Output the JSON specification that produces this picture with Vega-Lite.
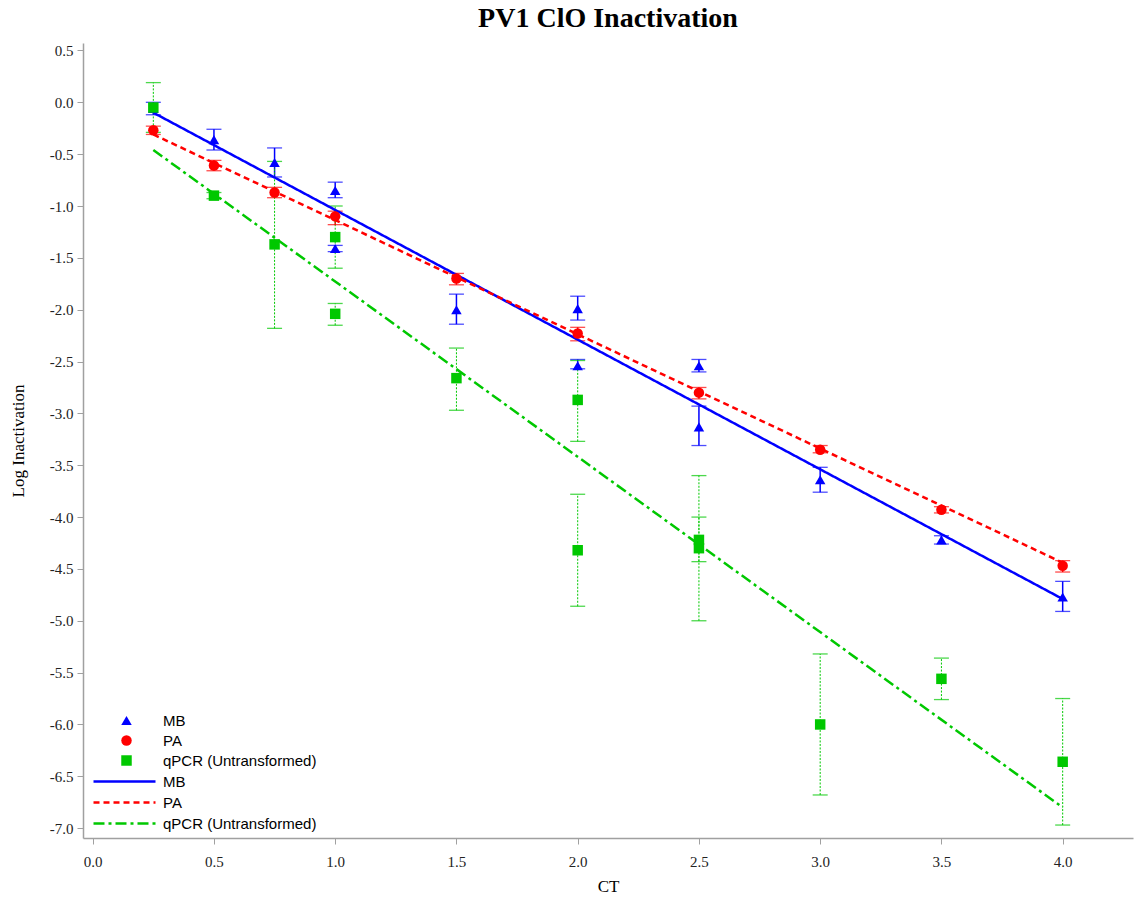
{
  "$schema": "https://vega.github.io/schema/vega-lite/v6.json",
  "width": 1050,
  "height": 795,
  "autosize": "none",
  "padding": {"left": 83, "top": 43, "right": 2, "bottom": 64},
  "background": "white",
  "title": {"text": "PV1 ClO Inactivation", "font": "Liberation Serif", "fontSize": 28, "fontWeight": "bold", "anchor": "middle", "offset": 10, "color": "black"},
  "config": {
    "view": {"stroke": null},
    "axis": {"grid": false, "domainColor": "#A0A0A0", "tickColor": "#A0A0A0", "tickSize": 6, "domainWidth": 1.5, "labelFont": "Liberation Serif", "labelFontSize": 15, "labelColor": "#222", "titleFont": "Liberation Serif", "titleFontSize": 17, "titleFontWeight": "normal", "titleColor": "black"},
    "legend": {"labelFont": "Liberation Sans", "labelFontSize": 15, "labelColor": "black", "padding": 0, "rowPadding": 4}
  },
  "datasets": {
    "pts": [
      {"series": "MB", "ct": 0.25, "mean": -0.06, "lo": -0.12, "hi": 0.0},
      {"series": "MB", "ct": 0.5, "mean": -0.36, "lo": -0.46, "hi": -0.26},
      {"series": "MB", "ct": 0.75, "mean": -0.58, "lo": -0.72, "hi": -0.44},
      {"series": "MB", "ct": 1.0, "mean": -0.85, "lo": -0.92, "hi": -0.77},
      {"series": "MB", "ct": 1.0, "mean": -1.41, "lo": -1.44, "hi": -1.38},
      {"series": "MB", "ct": 1.5, "mean": -2.0, "lo": -2.14, "hi": -1.85},
      {"series": "MB", "ct": 2.0, "mean": -1.99, "lo": -2.1, "hi": -1.87},
      {"series": "MB", "ct": 2.0, "mean": -2.54, "lo": -2.57, "hi": -2.48},
      {"series": "MB", "ct": 2.5, "mean": -2.54, "lo": -2.6, "hi": -2.48},
      {"series": "MB", "ct": 2.5, "mean": -3.13, "lo": -3.31, "hi": -2.93},
      {"series": "MB", "ct": 3.0, "mean": -3.64, "lo": -3.76, "hi": -3.52},
      {"series": "MB", "ct": 3.5, "mean": -4.22, "lo": -4.26, "hi": -4.18},
      {"series": "MB", "ct": 4.0, "mean": -4.77, "lo": -4.91, "hi": -4.62},
      {"series": "PA", "ct": 0.25, "mean": -0.27, "lo": -0.31, "hi": -0.23},
      {"series": "PA", "ct": 0.5, "mean": -0.61, "lo": -0.66, "hi": -0.56},
      {"series": "PA", "ct": 0.75, "mean": -0.87, "lo": -0.92, "hi": -0.82},
      {"series": "PA", "ct": 1.0, "mean": -1.1, "lo": -1.18, "hi": -1.05},
      {"series": "PA", "ct": 1.5, "mean": -1.7, "lo": -1.76, "hi": -1.65},
      {"series": "PA", "ct": 2.0, "mean": -2.23, "lo": -2.3, "hi": -2.17},
      {"series": "PA", "ct": 2.5, "mean": -2.8, "lo": -2.86, "hi": -2.75},
      {"series": "PA", "ct": 3.0, "mean": -3.35, "lo": -3.38, "hi": -3.31},
      {"series": "PA", "ct": 3.5, "mean": -3.93, "lo": -3.96, "hi": -3.9},
      {"series": "PA", "ct": 4.0, "mean": -4.47, "lo": -4.53, "hi": -4.42},
      {"series": "qPCR (Untransformed)", "ct": 0.25, "mean": -0.05, "lo": -0.29, "hi": 0.19},
      {"series": "qPCR (Untransformed)", "ct": 0.5, "mean": -0.9, "lo": -0.93, "hi": -0.87},
      {"series": "qPCR (Untransformed)", "ct": 0.75, "mean": -1.37, "lo": -2.18, "hi": -0.57},
      {"series": "qPCR (Untransformed)", "ct": 1.0, "mean": -1.3, "lo": -1.6, "hi": -1.0},
      {"series": "qPCR (Untransformed)", "ct": 1.0, "mean": -2.04, "lo": -2.15, "hi": -1.94},
      {"series": "qPCR (Untransformed)", "ct": 1.5, "mean": -2.66, "lo": -2.97, "hi": -2.37},
      {"series": "qPCR (Untransformed)", "ct": 2.0, "mean": -2.87, "lo": -3.27, "hi": -2.49},
      {"series": "qPCR (Untransformed)", "ct": 2.0, "mean": -4.32, "lo": -4.86, "hi": -3.78},
      {"series": "qPCR (Untransformed)", "ct": 2.5, "mean": -4.22, "lo": -4.43, "hi": -4.0},
      {"series": "qPCR (Untransformed)", "ct": 2.5, "mean": -4.3, "lo": -5.0, "hi": -3.6},
      {"series": "qPCR (Untransformed)", "ct": 3.0, "mean": -6.0, "lo": -6.68, "hi": -5.32},
      {"series": "qPCR (Untransformed)", "ct": 3.5, "mean": -5.56, "lo": -5.76, "hi": -5.36},
      {"series": "qPCR (Untransformed)", "ct": 4.0, "mean": -6.36, "lo": -6.97, "hi": -5.75}
    ],
    "fit": [
      {"series": "MB", "ct": 0.25, "fit": -0.1},
      {"series": "MB", "ct": 4.0, "fit": -4.79},
      {"series": "PA", "ct": 0.25, "fit": -0.31},
      {"series": "PA", "ct": 4.0, "fit": -4.44},
      {"series": "qPCR (Untransformed)", "ct": 0.25, "fit": -0.46},
      {"series": "qPCR (Untransformed)", "ct": 4.0, "fit": -6.8}
    ]
  },
  "encoding": {
    "x": {"field": "ct", "type": "quantitative", "title": "CT",
      "scale": {"domain": [-0.04, 4.29], "nice": false, "zero": false},
      "axis": {"values": [0, 0.5, 1, 1.5, 2, 2.5, 3, 3.5, 4], "format": ".1f", "labelPadding": 10, "titlePadding": 9}}
  },
  "layer": [
    {
      "data": {"name": "pts"},
      "transform": [{"filter": "datum.series != 'qPCR (Untransformed)'"}],
      "mark": {"type": "rule", "strokeWidth": 1.5},
      "encoding": {
        "y": {"field": "lo", "type": "quantitative", "title": "Log Inactivation",
          "scale": {"domain": [-7.095, 0.572], "nice": false, "zero": false},
          "axis": {"values": [-7, -6.5, -6, -5.5, -5, -4.5, -4, -3.5, -3, -2.5, -2, -1.5, -1, -0.5, 0, 0.5], "labelExpr": "replace(format(datum.value, '.1f'), '\u2212', '-')", "labelPadding": 4, "titlePadding": 22}},
        "y2": {"field": "hi"},
        "color": {"field": "series", "type": "nominal", "legend": null,
          "scale": {"domain": ["MB", "PA", "qPCR (Untransformed)"], "range": ["#0000FF", "#FF0000", "#00C800"]}}
      }
    },
    {
      "data": {"name": "pts"},
      "transform": [{"filter": "datum.series == 'qPCR (Untransformed)'"}],
      "mark": {"type": "rule", "strokeWidth": 1, "strokeDash": [2, 1.5], "color": "#00C800"},
      "encoding": {
        "y": {"field": "lo", "type": "quantitative"},
        "y2": {"field": "hi"}
      }
    },
    {
      "data": {"name": "pts"},
      "mark": {"type": "tick", "orient": "horizontal", "size": 15, "thickness": 1.3},
      "encoding": {
        "y": {"field": "lo", "type": "quantitative"},
        "color": {"field": "series", "type": "nominal", "legend": null,
          "scale": {"domain": ["MB", "PA", "qPCR (Untransformed)"], "range": ["#0000FF", "#FF0000", "#00C800"]}}
      }
    },
    {
      "data": {"name": "pts"},
      "mark": {"type": "tick", "orient": "horizontal", "size": 15, "thickness": 1.3},
      "encoding": {
        "y": {"field": "hi", "type": "quantitative"},
        "color": {"field": "series", "type": "nominal", "legend": null,
          "scale": {"domain": ["MB", "PA", "qPCR (Untransformed)"], "range": ["#0000FF", "#FF0000", "#00C800"]}}
      }
    },
    {
      "data": {"name": "fit"},
      "mark": {"type": "line", "strokeWidth": 2.5},
      "encoding": {
        "y": {"field": "fit", "type": "quantitative"},
        "color": {"field": "series", "type": "nominal",
          "scale": {"domain": ["MB", "PA", "qPCR (Untransformed)"], "range": ["#0000FF", "#FF0000", "#00C800"]},
          "legend": {"orient": "none", "legendX": 32, "legendY": 729, "title": null, "symbolType": "M-3.875,0H3.875", "symbolSize": 256, "symbolStrokeWidth": 2.5, "labelOffset": 29, "rowPadding": 3}},
        "strokeDash": {"field": "series", "type": "nominal",
          "scale": {"domain": ["MB", "PA", "qPCR (Untransformed)"], "range": [[1, 0], [6, 4], [11, 4, 3, 4]]},
          "legend": {"orient": "none", "legendX": 32, "legendY": 729, "title": null, "symbolType": "M-3.875,0H3.875", "symbolSize": 256, "symbolStrokeWidth": 2.5, "labelOffset": 29, "rowPadding": 3}}
      }
    },
    {
      "data": {"name": "pts"},
      "mark": {"type": "point", "filled": true, "size": 110, "opacity": 1},
      "encoding": {
        "y": {"field": "mean", "type": "quantitative"},
        "color": {"field": "series", "type": "nominal",
          "scale": {"domain": ["MB", "PA", "qPCR (Untransformed)"], "range": ["#0000FF", "#FF0000", "#00C800"]},
          "legend": {"orient": "none", "legendX": 36, "legendY": 670, "title": null, "symbolSize": 110, "labelOffset": 29, "rowPadding": 4}},
        "shape": {"field": "series", "type": "nominal",
          "scale": {"domain": ["MB", "PA", "qPCR (Untransformed)"], "range": ["triangle-up", "circle", "square"]},
          "legend": {"orient": "none", "legendX": 36, "legendY": 670, "title": null, "symbolSize": 110, "labelOffset": 29, "rowPadding": 4}}
      }
    }
  ],
  "resolve": {"scale": {"color": "independent", "shape": "independent", "strokeDash": "independent"}}
}
